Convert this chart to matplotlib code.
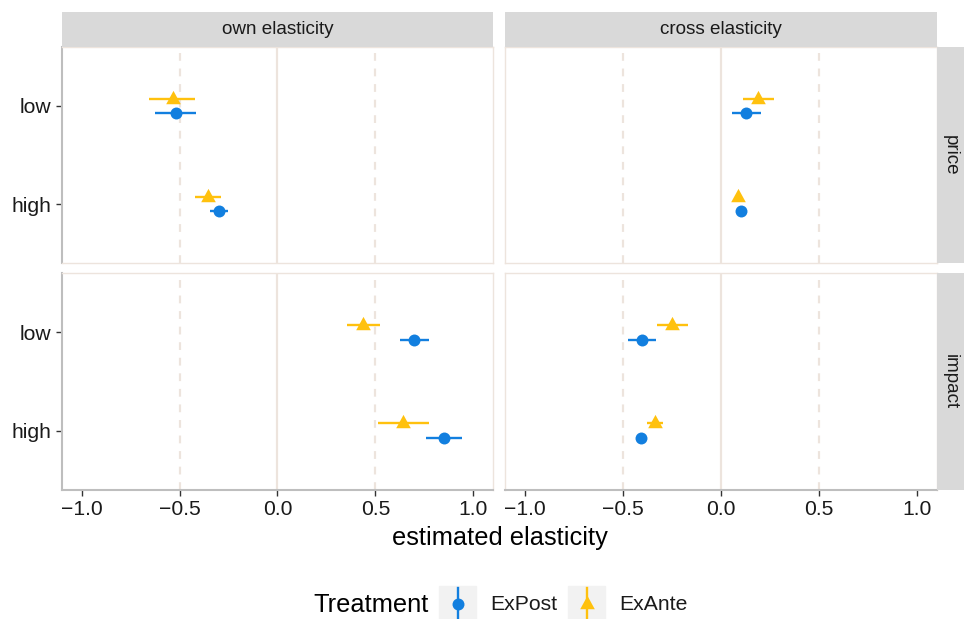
import matplotlib
matplotlib.use("Agg")
import matplotlib.pyplot as plt
from matplotlib.path import Path
from matplotlib.patches import Rectangle
from matplotlib.lines import Line2D

plt.rcParams['font.family'] = ['Liberation Sans', 'DejaVu Sans']

# ---- data -------------------------------------------------------------
elasticity_types = ["own elasticity", "cross elasticity"]
attributes = ["price", "impact"]
levels = ["high", "low"]          # bottom to top
treatments = ["ExPost", "ExAnte"]

# estimate, lower, upper for each (attribute, elasticity type, treatment), ordered as levels
est = {
    ("price", "own elasticity", "ExPost"):   [-0.299, -0.517],
    ("price", "own elasticity", "ExAnte"):   [-0.356, -0.534],
    ("price", "cross elasticity", "ExPost"): [0.102, 0.127],
    ("price", "cross elasticity", "ExAnte"): [0.088, 0.190],
    ("impact", "own elasticity", "ExPost"):   [0.852, 0.699],
    ("impact", "own elasticity", "ExAnte"):   [0.639, 0.435],
    ("impact", "cross elasticity", "ExPost"): [-0.407, -0.404],
    ("impact", "cross elasticity", "ExAnte"): [-0.337, -0.248],
}
lower = {
    ("price", "own elasticity", "ExPost"):   [-0.347, -0.624],
    ("price", "own elasticity", "ExAnte"):   [-0.423, -0.658],
    ("price", "cross elasticity", "ExPost"): [0.095, 0.054],
    ("price", "cross elasticity", "ExAnte"): [0.078, 0.112],
    ("impact", "own elasticity", "ExPost"):   [0.760, 0.624],
    ("impact", "own elasticity", "ExAnte"):   [0.515, 0.354],
    ("impact", "cross elasticity", "ExPost"): [-0.414, -0.476],
    ("impact", "cross elasticity", "ExAnte"): [-0.376, -0.327],
}
upper = {
    ("price", "own elasticity", "ExPost"):   [-0.252, -0.417],
    ("price", "own elasticity", "ExAnte"):   [-0.286, -0.420],
    ("price", "cross elasticity", "ExPost"): [0.109, 0.203],
    ("price", "cross elasticity", "ExAnte"): [0.098, 0.271],
    ("impact", "own elasticity", "ExPost"):   [0.942, 0.774],
    ("impact", "own elasticity", "ExAnte"):   [0.774, 0.524],
    ("impact", "cross elasticity", "ExPost"): [-0.400, -0.332],
    ("impact", "cross elasticity", "ExAnte"): [-0.297, -0.168],
}
x_ticks = [-1.0, -0.5, 0.0, 0.5, 1.0]
x_tick_labels = ["\u22121.0", "\u22120.5", "0.0", "0.5", "1.0"]

# ---- styling ----------------------------------------------------------
W, H = 964, 619
colors = {"ExPost": "#127FDF", "ExAnte": "#FFC10E"}
dodge = {"ExPost": -0.075, "ExAnte": 0.075}
tri = Path([(0, 1.0), (-0.85, -0.55), (0.85, -0.55), (0, 1.0)],
           [Path.MOVETO, Path.LINETO, Path.LINETO, Path.CLOSEPOLY])
markers = {"ExPost": ("o", 8.6), "ExAnte": (tri, 12.4)}
ref_col = "#EDE4DD"
axis_col = "#BEBEBE"
strip_col = "#D9D9D9"
text_col = "#1A1A1A"
tick_fs = 15.2
strip_fs = 13.6

fig = plt.figure(figsize=(W / 100, H / 100), dpi=100)


def box(x0, y0, x1, y1):
    return [x0 / W, 1 - y1 / H, (x1 - x0) / W, (y1 - y0) / H]


col_px = [(62, 493), (505, 937)]
row_px = [(47, 263), (273, 490)]

for r, attr in enumerate(attributes):
    for c, etype in enumerate(elasticity_types):
        x0, x1 = col_px[c]
        y0, y1 = row_px[r]
        ax = fig.add_axes(box(x0, y0, x1, y1))
        ax.set_xlim(-1.1, 1.1)
        ax.set_ylim(0.4, 2.6)
        ax.axvline(0, color=ref_col, lw=1.6, zorder=1)
        for v in (-0.5, 0.5):
            ax.axvline(v, color=ref_col, lw=1.6, ls=(0, (3.5, 3.5)), zorder=1)
        for t in treatments:
            key = (attr, etype, t)
            ys = [i + 1 + dodge[t] for i in range(len(levels))]
            ax.hlines(ys, lower[key], upper[key], color=colors[t], lw=1.7, zorder=3)
            m, ms = markers[t]
            ax.plot(est[key], ys, ls="none", marker=m, ms=ms, color=colors[t],
                    mec="none", zorder=4)
        for s in ax.spines.values():
            s.set_color(ref_col)
            s.set_linewidth(1.0)
        ax.set_yticks([1, 2])
        ax.set_xticks(x_ticks)
        ax.tick_params(length=4, width=1.0, color="#333333", labelsize=tick_fs,
                       labelcolor=text_col)
        ax.tick_params(axis="x", pad=3.5)
        ax.tick_params(axis="y", pad=3.8)
        if c == 0:
            ax.set_yticklabels(levels)
            ax.spines["left"].set_color(axis_col)
            ax.spines["left"].set_linewidth(1.5)
        else:
            ax.tick_params(axis="y", left=False, labelleft=False)
        if r == 1:
            ax.set_xticklabels(x_tick_labels)
            ax.spines["bottom"].set_color(axis_col)
            ax.spines["bottom"].set_linewidth(1.5)
        else:
            ax.tick_params(axis="x", bottom=False, labelbottom=False)

# facet strips
for c, etype in enumerate(elasticity_types):
    x0, x1 = col_px[c]
    sax = fig.add_axes(box(x0, 12, x1, 47))
    sax.set_axis_off()
    sax.add_patch(Rectangle((0, 0), 1, 1, transform=sax.transAxes, color=strip_col))
    sax.text(0.5, 0.5, etype, ha="center", va="center", fontsize=strip_fs,
             color=text_col, transform=sax.transAxes)
for r, attr in enumerate(attributes):
    y0, y1 = row_px[r]
    sax = fig.add_axes(box(937, y0, 964, y1))
    sax.set_axis_off()
    sax.add_patch(Rectangle((0, 0), 1, 1, transform=sax.transAxes, color=strip_col))
    sax.text(0.5, 0.5, attr, ha="center", va="center", fontsize=strip_fs,
             color=text_col, rotation=-90, transform=sax.transAxes)

# axis title
fig.text(499.5 / W, 1 - 538 / H, "estimated elasticity", ha="center", va="center",
         fontsize=18.3, color="black")

# legend
lax = fig.add_axes([0, 0, 1, 1])
lax.set_xlim(0, W)
lax.set_ylim(H, 0)
lax.set_axis_off()
lax.text(313, 605, "Treatment", ha="left", va="center", fontsize=18.3, color="black")
key_x = {"ExPost": 439, "ExAnte": 568}
for t in treatments:
    kx = key_x[t]
    lax.add_patch(Rectangle((kx, 586), 37, 34, color="#F2F2F2", zorder=1))
    cx = kx + 18.5
    lax.add_line(Line2D([cx, cx], [588, 619], color=colors[t], lw=1.7, zorder=2))
    m, ms = markers[t]
    lax.plot([cx], [604], marker=m, ms=ms, color=colors[t], mec="none", zorder=3)
    lax.text(kx + 51, 605, t, ha="left", va="center", fontsize=tick_fs, color=text_col)

fig.savefig("out.png", dpi=100)
